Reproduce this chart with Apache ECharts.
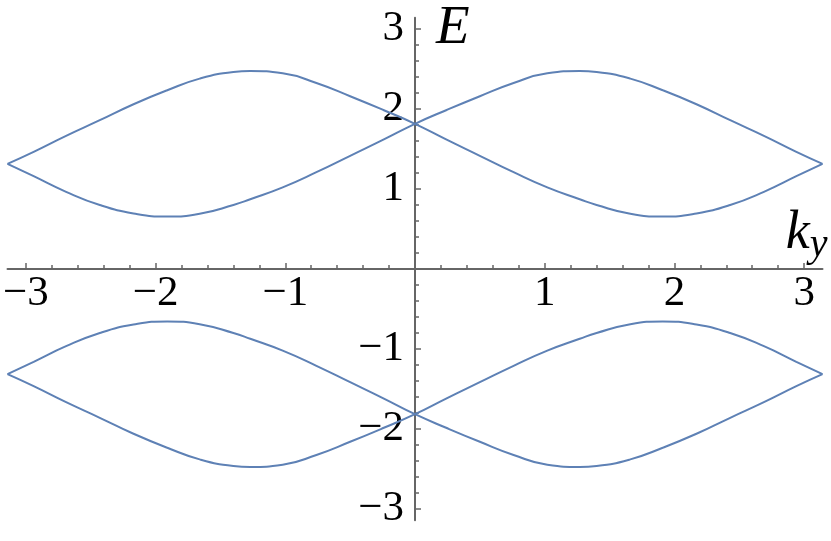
<!DOCTYPE html>
<html><head><meta charset="utf-8">
<script src="https://cdn.jsdelivr.net/npm/echarts@6/dist/echarts.min.js"></script>
<style>html,body{margin:0;padding:0;background:#fff;}#c{width:831px;height:541px;}</style>
</head><body><div id="c"></div>
<script>
// k_y sample positions
const kValues = [-3.1416, -2.94, -2.69, -2.43, -2.17, -1.91, -1.66, -1.40, -1.27, -1.02, -0.76, -0.50, -0.24, 0, 0.24, 0.50, 0.76, 1.02, 1.27, 1.40, 1.66, 1.91, 2.17, 2.43, 2.69, 2.94, 3.1416];
// four energy bands E(k_y)
const bandA = [1.315, 1.465, 1.665, 1.86, 2.06, 2.235, 2.38, 2.463, 2.475, 2.447, 2.325, 2.16, 1.985, 1.815, 1.62, 1.415, 1.21, 1.02, 0.872, 0.80, 0.69, 0.655, 0.695, 0.80, 0.965, 1.16, 1.315];
const bandB = [1.315, 1.16, 0.965, 0.80, 0.695, 0.655, 0.69, 0.80, 0.872, 1.02, 1.21, 1.415, 1.62, 1.815, 1.985, 2.16, 2.325, 2.447, 2.475, 2.463, 2.38, 2.235, 2.06, 1.86, 1.665, 1.465, 1.315];
const bandC = [-1.315, -1.465, -1.665, -1.86, -2.06, -2.235, -2.38, -2.463, -2.475, -2.447, -2.325, -2.16, -1.985, -1.815, -1.62, -1.415, -1.21, -1.02, -0.872, -0.80, -0.69, -0.655, -0.695, -0.80, -0.965, -1.16, -1.315];
const bandD = [-1.315, -1.16, -0.965, -0.80, -0.695, -0.655, -0.69, -0.80, -0.872, -1.02, -1.21, -1.415, -1.62, -1.815, -1.985, -2.16, -2.325, -2.447, -2.475, -2.463, -2.38, -2.235, -2.06, -1.86, -1.665, -1.465, -1.315];
// tick labels
const xTickLabels = [-3, -2, -1, 1, 2, 3];
const yTickLabels = [-3, -2, -1, 1, 2, 3];

function minorTicks() {
  const out = [];
  for (let i = -15; i <= 15; i++) {
    const v = Math.round(i * 2) / 10;
    if (Math.abs(v - Math.round(v)) > 1e-6) out.push(v);
  }
  return out;
}
const xMinor = minorTicks();
const yMinor = minorTicks();

const W = 831, H = 541;
const G = {left: 7.5, right: 8.5, top: 17.7, bottom: 20.7};
const gridW = W - G.left - G.right, gridH = H - G.top - G.bottom;
const xOff = -gridH / 2;   // x axis through E = 0 (range is symmetric)
const yOff = -gridW / 2;   // y axis through k = 0

const AX = '#666666';
const FONT = 'Liberation Serif';
const fmt = v => (v < 0 ? '\u2212' + (-v) : String(v));
function pairs(ys) { return kValues.map((k, i) => [k, ys[i]]); }

const chart = echarts.init(document.getElementById('c'), null, {renderer: 'canvas'});
const baseAxis = {type: 'value', min: -Math.PI, max: Math.PI, splitLine: {show: false}};
const lineSeries = (name, ys) => ({
  name, type: 'line', data: pairs(ys), xAxisIndex: 0, yAxisIndex: 0,
  showSymbol: false, smooth: 0.5, lineStyle: {color: '#5E81B5', width: 2},
  itemStyle: {color: '#5E81B5'}, z: 3, animation: false
});

chart.setOption({
  animation: false,
  backgroundColor: '#fff',
  grid: Object.assign({containLabel: false, outerBoundsMode: 'none'}, G),
  xAxis: [
    Object.assign({}, baseAxis, {
      position: 'bottom', offset: xOff,
      axisLine: {onZero: false, lineStyle: {color: AX, width: 2}},
      axisTick: {inside: true, length: 6, customValues: xTickLabels, lineStyle: {color: AX, width: 1.5}},
      axisLabel: {customValues: xTickLabels, formatter: fmt, fontFamily: FONT, fontSize: 43, color: '#000', margin: 3},
      name: '{k|k}{y|y}', nameLocation: 'end', nameGap: 5,
      nameTextStyle: {align: 'right', verticalAlign: 'bottom', padding: [0, 0, 4, 0],
        rich: {k: {fontFamily: FONT, fontStyle: 'italic', fontSize: 54, lineHeight: 58, verticalAlign: 'top', color: '#000'},
               y: {fontFamily: FONT, fontStyle: 'italic', fontSize: 40, lineHeight: 40, verticalAlign: 'bottom', color: '#000'}}}
    }),
    Object.assign({}, baseAxis, {
      position: 'bottom', offset: xOff,
      axisLine: {show: false, onZero: false},
      axisTick: {inside: true, length: 4, customValues: xMinor, lineStyle: {color: AX, width: 1.5}},
      axisLabel: {show: false}
    })
  ],
  yAxis: [
    Object.assign({}, baseAxis, {
      position: 'left', offset: yOff,
      axisLine: {onZero: false, lineStyle: {color: AX, width: 2}},
      axisTick: {inside: true, length: 6, customValues: yTickLabels, lineStyle: {color: AX, width: 1.5}},
      axisLabel: {customValues: yTickLabels, formatter: fmt, fontFamily: FONT, fontSize: 43, color: '#000', margin: 11},
      name: 'E', nameLocation: 'end', nameGap: 17,
      nameTextStyle: {fontFamily: FONT, fontStyle: 'italic', fontSize: 55, color: '#000', align: 'left', verticalAlign: 'top', padding: [0, 0, 0, 21]}
    }),
    Object.assign({}, baseAxis, {
      position: 'left', offset: yOff,
      axisLine: {show: false, onZero: false},
      axisTick: {inside: true, length: 4, customValues: yMinor, lineStyle: {color: AX, width: 1.5}},
      axisLabel: {show: false}
    })
  ],
  series: [
    lineSeries('band A', bandA),
    lineSeries('band B', bandB),
    lineSeries('band C', bandC),
    lineSeries('band D', bandD)
  ]
});
</script></body></html>
